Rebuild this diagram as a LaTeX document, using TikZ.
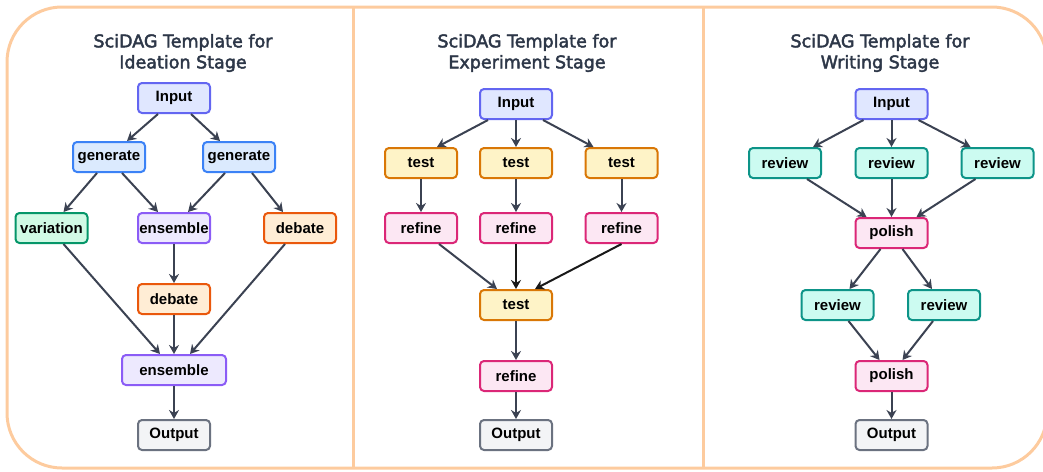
\documentclass[tikz,border=0pt]{standalone}
\usepackage{fontspec}
\setmainfont{Liberation Sans}
\newfontfamily\titlefont[FakeBold=2.5]{DejaVu Sans}
\usetikzlibrary{arrows.meta,calc}
\definecolor{frameC}{HTML}{FDCB9E}
\definecolor{arrC}{HTML}{3B4252}
\definecolor{titleC}{HTML}{2D3748}
\definecolor{inF}{HTML}{E0E7FF}\definecolor{inD}{HTML}{6366F1}
\definecolor{genF}{HTML}{DBEAFE}\definecolor{genD}{HTML}{3B82F6}
\definecolor{varF}{HTML}{D1FAE5}\definecolor{varD}{HTML}{059669}
\definecolor{revF}{HTML}{CCFBF1}\definecolor{revD}{HTML}{0D9488}
\definecolor{ensF}{HTML}{EDE9FE}\definecolor{ensD}{HTML}{8B5CF6}
\definecolor{debF}{HTML}{FFEDD5}\definecolor{debD}{HTML}{EA580C}
\definecolor{tstF}{HTML}{FEF3C7}\definecolor{tstD}{HTML}{D97706}
\definecolor{refF}{HTML}{FCE7F3}\definecolor{refD}{HTML}{DB2777}
\definecolor{outF}{HTML}{F3F4F6}\definecolor{outD}{HTML}{6B7280}
\tikzset{
  box/.style={draw, rounded corners=4pt, line width=2pt, minimum width=72pt, minimum height=30pt,
    inner sep=0pt, text=black, font=\fontsize{15}{16}\selectfont\bfseries},
  inbox/.style={box, fill=inF, draw=inD},
  genbox/.style={box, fill=genF, draw=genD},
  varbox/.style={box, fill=varF, draw=varD},
  revbox/.style={box, fill=revF, draw=revD},
  ensbox/.style={box, fill=ensF, draw=ensD},
  debbox/.style={box, fill=debF, draw=debD},
  tstbox/.style={box, fill=tstF, draw=tstD},
  refbox/.style={box, fill=refF, draw=refD},
  outbox/.style={box, fill=outF, draw=outD},
  arr/.style={draw=arrC, line width=2pt, -{Stealth[length=9pt,width=10pt]}},
  barr/.style={arr, draw=black!90},
  ttl/.style={align=center, text=titleC, font=\titlefont\fontsize{17.5}{21}\selectfont},
}
\begin{document}
\begin{tikzpicture}[x=1pt,y=-1pt]
\useasboundingbox (0,0) rectangle (1043,471);
% frame
\draw[frameC, line width=3pt, rounded corners=55pt] (7,7) rectangle (1047,468);
\draw[frameC, line width=3pt] (353,7) -- (353,468);
\draw[frameC, line width=3pt] (703,7) -- (703,468);

% titles
\node[ttl] (t1) at (183,53) {SciDAG Template for\\Ideation Stage};
\node[ttl] (t2) at (527,53) {SciDAG Template for\\Experiment Stage};
\node[ttl] (t3) at (880,53) {SciDAG Template for\\Writing Stage};

% ---- left panel
\node[inbox] (in1) at (174,98) {Input};
\node[genbox] (g1) at (109,157) {generate};
\node[genbox] (g2) at (239,157) {generate};
\node[varbox] (v1) at (51.5,228) {variation};
\node[ensbox] (e1) at (174,228) {ensemble};
\node[debbox] (d1) at (300,228) {debate};
\node[debbox] (d2) at (174,299) {debate};
\node[ensbox, minimum width=104pt] (e2) at (174,370) {ensemble};
\node[outbox] (o1) at (174,435) {Output};

\draw[arr] ([xshift=-16pt]in1.south) -- ([xshift=18pt]g1.north);
\draw[arr] ([xshift=17pt]in1.south) -- ([xshift=-19pt]g2.north);
\draw[arr] ([xshift=-12pt]g1.south) -- ([xshift=12pt]v1.north);
\draw[arr] ([xshift=13pt]g1.south) -- ([xshift=-16pt]e1.north);
\draw[arr] ([xshift=-14pt]g2.south) -- ([xshift=14pt]e1.north);
\draw[arr] ([xshift=13pt]g2.south) -- ([xshift=-17pt]d1.north);
\draw[arr] ([xshift=12pt]v1.south) -- ([xshift=-14pt]e2.north);
\draw[arr] (e1.south) -- (d2.north);
\draw[arr] (d2.south) -- (e2.north);
\draw[arr] ([xshift=-15pt]d1.south) -- ([xshift=16pt]e2.north);
\draw[arr] (e2.south) -- (o1.north);

% ---- middle panel
\node[inbox] (in2) at (516,104) {Input};
\node[tstbox] (ta) at (421,163) {test};
\node[tstbox] (tb) at (516,163) {test};
\node[tstbox] (tc) at (621.5,163) {test};
\node[refbox] (ra) at (421,228) {refine};
\node[refbox] (rb) at (516,228) {refine};
\node[refbox] (rc) at (621.5,228) {refine};
\node[tstbox] (td) at (516,305) {test};
\node[refbox] (rd) at (516,376) {refine};
\node[outbox] (o2) at (516,435) {Output};

\draw[arr] ([xshift=-28pt]in2.south) -- ([xshift=16pt]ta.north);
\draw[arr] (in2.south) -- (tb.north);
\draw[arr] ([xshift=27pt]in2.south) -- ([xshift=-28pt]tc.north);
\draw[arr] (ta.south) -- (ra.north);
\draw[arr] (tb.south) -- (rb.north);
\draw[arr] (tc.south) -- (rc.north);
\draw[arr] ([xshift=18pt]ra.south) -- ([xshift=-19pt]td.north);
\draw[barr] (rb.south) -- (td.north);
\draw[barr] (rc.south) -- ([xshift=19pt]td.north);
\draw[arr] (td.south) -- (rd.north);
\draw[arr] (rd.south) -- (o2.north);

% ---- right panel
\node[inbox] (in3) at (891.5,104) {Input};
\node[revbox] (wa) at (785,163) {review};
\node[revbox] (wb) at (891.5,163) {review};
\node[revbox] (wc) at (997.5,163) {review};
\node[refbox] (p1) at (891.5,233) {polish};
\node[revbox] (wd) at (837.5,305) {review};
\node[revbox] (we) at (944,305) {review};
\node[refbox] (p2) at (891.5,376) {polish};
\node[outbox] (o3) at (891.5,435) {Output};

\draw[arr] ([xshift=-28pt]in3.south) -- ([xshift=28pt]wa.north);
\draw[arr] (in3.south) -- (wb.north);
\draw[arr] ([xshift=27pt]in3.south) -- ([xshift=-27pt]wc.north);
\draw[arr] ([xshift=22pt]wa.south) -- ([xshift=-25pt]p1.north);
\draw[arr] (wb.south) -- (p1.north);
\draw[arr] ([xshift=-22pt]wc.south) -- ([xshift=25pt]p1.north);
\draw[arr] ([xshift=-11pt]p1.south) -- ([xshift=12pt]wd.north);
\draw[arr] ([xshift=11pt]p1.south) -- ([xshift=-12pt]we.north);
\draw[arr] ([xshift=11pt]wd.south) -- ([xshift=-12pt]p2.north);
\draw[arr] ([xshift=-11pt]we.south) -- ([xshift=11pt]p2.north);
\draw[arr] (p2.south) -- (o3.north);
\end{tikzpicture}
\end{document}
